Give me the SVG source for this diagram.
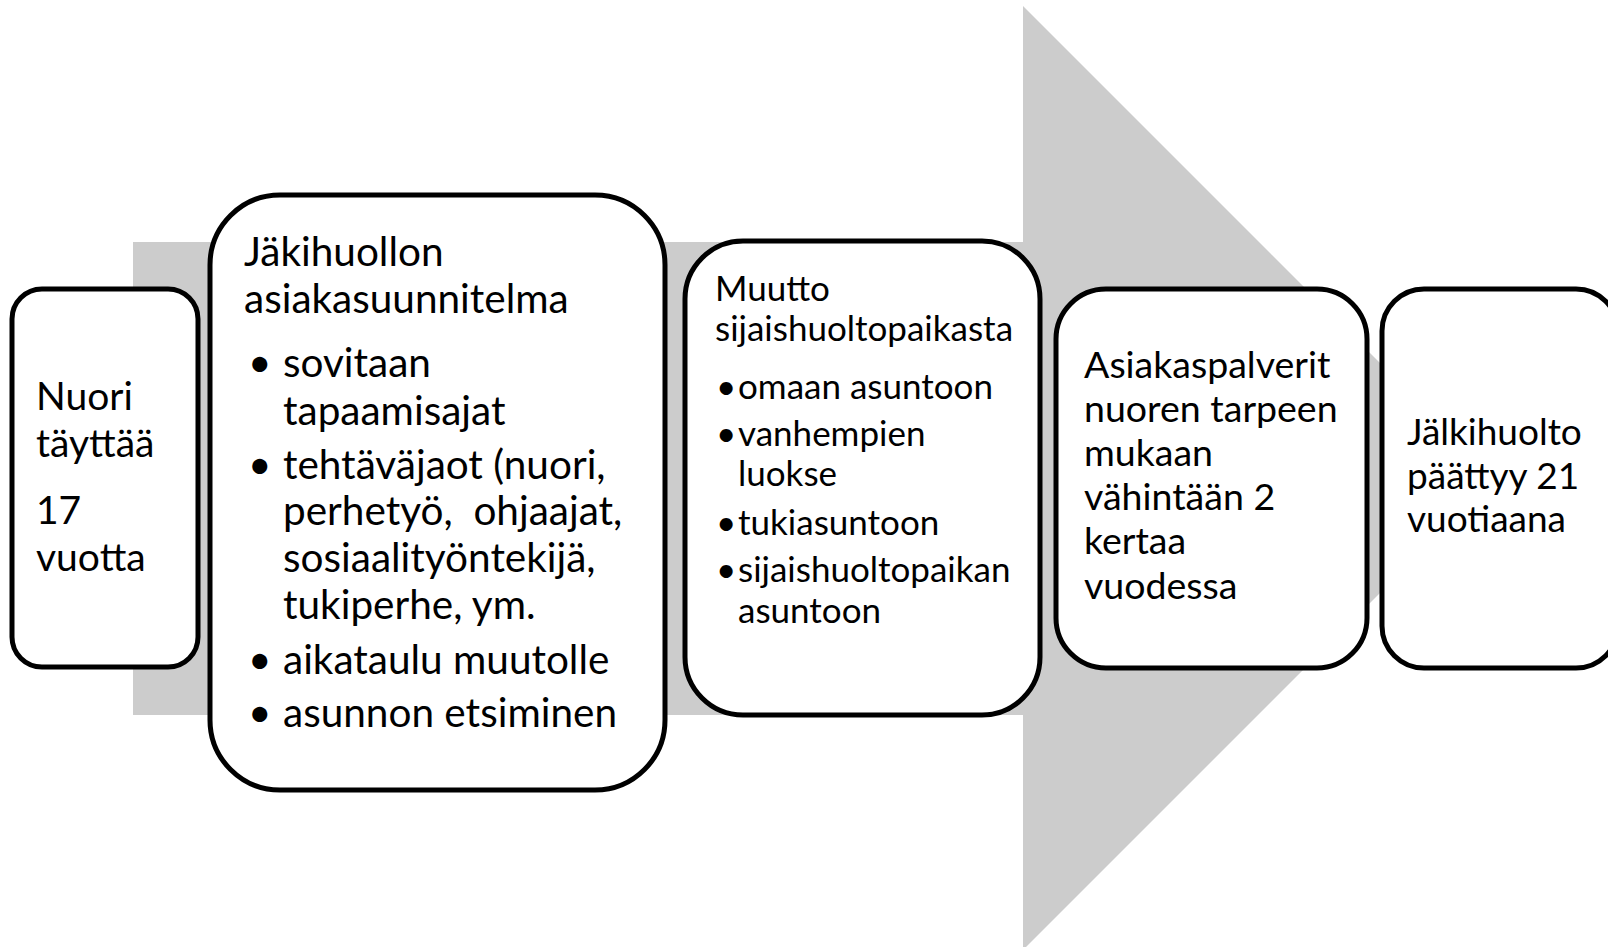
<svg xmlns="http://www.w3.org/2000/svg" width="1608" height="947" viewBox="0 0 1608 947">
  <style>
    .box { fill: #ffffff; stroke: #000000; stroke-width: 5; }
    .t { font-family: Lato, "Liberation Sans", sans-serif; fill: #000000; }
    .s1 { font-size: 39px; }
    .s2 { font-size: 40.5px; }
    .s3 { font-size: 35px; }
    .s4 { font-size: 37.5px; }
    .s5 { font-size: 37px; }
  </style>

  <!-- big grey process arrow behind the steps -->
  <g id="connectors">
    <polygon points="133,242 1023,242 1023,6 1495,478 1023,950 1023,715 133,715" fill="#cccccc"/>
  </g>

  <g id="step1">
    <rect class="box" x="12" y="289" width="186" height="378" rx="30" ry="30"/>
    <text class="t s1">
      <tspan x="36" y="410">Nuori</tspan>
      <tspan x="36" y="457">täyttää</tspan>
      <tspan x="36" y="524">17</tspan>
      <tspan x="36" y="571">vuotta</tspan>
    </text>
  </g>

  <g id="step2">
    <rect class="box" x="210" y="195" width="455" height="595" rx="70" ry="70"/>
    <text class="t s2">
      <tspan x="244" y="266">Jäkihuollon</tspan>
      <tspan x="244" y="313">asiakasuunnitelma</tspan>
    </text>
    <text class="t s2">
      <tspan x="248" y="377">•</tspan>
      <tspan x="248" y="479">•</tspan>
      <tspan x="248" y="674">•</tspan>
      <tspan x="248" y="727">•</tspan>
    </text>
    <text class="t s2">
      <tspan x="283" y="377">sovitaan</tspan>
      <tspan x="283" y="425">tapaamisajat</tspan>
      <tspan x="283" y="479">tehtäväjaot (nuori,</tspan>
      <tspan x="283" y="525">perhetyö,&#160; ohjaajat,</tspan>
      <tspan x="283" y="572">sosiaalityöntekijä,</tspan>
      <tspan x="283" y="619">tukiperhe, ym.</tspan>
      <tspan x="283" y="674">aikataulu muutolle</tspan>
      <tspan x="283" y="727">asunnon etsiminen</tspan>
    </text>
  </g>

  <g id="step3">
    <rect class="box" x="685" y="241" width="355" height="474" rx="58" ry="58"/>
    <text class="t s3">
      <tspan x="715" y="301">Muutto</tspan>
      <tspan x="715" y="341">sijaishuoltopaikasta</tspan>
    </text>
    <text class="t s3">
      <tspan x="716" y="399">•</tspan>
      <tspan x="716" y="446">•</tspan>
      <tspan x="716" y="535">•</tspan>
      <tspan x="716" y="582">•</tspan>
    </text>
    <text class="t s3">
      <tspan x="738" y="399">omaan asuntoon</tspan>
      <tspan x="738" y="446">vanhempien</tspan>
      <tspan x="738" y="486">luokse</tspan>
      <tspan x="738" y="535">tukiasuntoon</tspan>
      <tspan x="738" y="582">sijaishuoltopaikan</tspan>
      <tspan x="738" y="623">asuntoon</tspan>
    </text>
  </g>

  <g id="step4">
    <rect class="box" x="1056" y="289" width="311" height="379" rx="50" ry="50"/>
    <text class="t s4">
      <tspan x="1084" y="378">Asiakaspalverit</tspan>
      <tspan x="1084" y="422">nuoren tarpeen</tspan>
      <tspan x="1084" y="466">mukaan</tspan>
      <tspan x="1084" y="510">vähintään 2</tspan>
      <tspan x="1084" y="554">kertaa</tspan>
      <tspan x="1084" y="599">vuodessa</tspan>
    </text>
  </g>

  <g id="step5">
    <rect class="box" x="1382" y="289" width="236" height="379" rx="42" ry="42"/>
    <text class="t s5">
      <tspan x="1407" y="445">Jälkihuolto</tspan>
      <tspan x="1407" y="489">päättyy 21</tspan>
      <tspan x="1407" y="532">vuotiaana</tspan>
    </text>
  </g>
</svg>
